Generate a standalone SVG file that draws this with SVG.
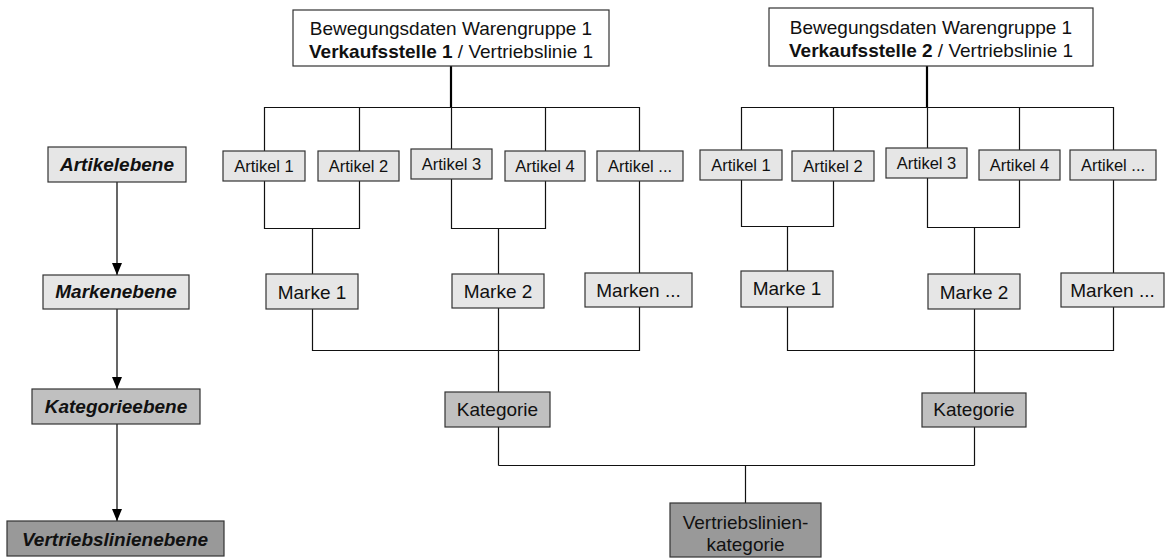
<svg xmlns="http://www.w3.org/2000/svg" width="1165" height="558" viewBox="0 0 1165 558">
<defs>
<marker id="arr" viewBox="0 0 12 10" refX="12" refY="5" markerWidth="12" markerHeight="10" markerUnits="userSpaceOnUse" orient="auto">
<path d="M0,0 L12,5 L0,10 Z" fill="#000"/>
</marker>
<style>
text{font-family:"Liberation Sans",Arial,Helvetica,sans-serif;fill:#111;text-anchor:middle}
.box{stroke:#333;stroke-width:1.2}
.white{fill:#fff}
.l1{fill:#e6e6e6}
.l2{fill:#c0c0c0}
.l3{fill:#999999}
.art{font-size:16.5px}
.big{font-size:19px}
.lvl{font-size:19px;font-weight:bold;font-style:italic}
.con{fill:none;stroke:#111;stroke-width:1.2}
.thick{fill:none;stroke:#000;stroke-width:2.2}
.arrow{fill:none;stroke:#000;stroke-width:1.2}
</style>
</defs>
<rect width="1165" height="558" fill="#fff"/>

<g id="connectors">
<!-- tree 1 -->
<path class="thick" d="M451,66 V107"/>
<path class="con" d="M264.5,151 V107.5 H639.5 V151 M359.5,107.5 V151 M451.5,107.5 V149 M545.5,107.5 V151"/>
<path class="con" d="M264.5,181 V228.5 H359.5 V181 M312.5,228.5 V274"/>
<path class="con" d="M451.5,179 V228.5 H545.5 V181 M498.5,228.5 V274"/>
<path class="con" d="M639.5,181 V273"/>
<path class="con" d="M312.5,309 V350.5 H639.5 V307 M498.5,308 V392"/>
<path class="con" d="M498.5,427 V465.5"/>
<!-- tree 2 -->
<path class="thick" d="M927,66 V107"/>
<path class="con" d="M741.5,150 V107.5 H1113.5 V150 M833.5,107.5 V151 M927.5,107.5 V148 M1019.5,107.5 V150"/>
<path class="con" d="M741.5,180 V226.5 H833.5 V181 M787.5,226.5 V271"/>
<path class="con" d="M927.5,178 V227.5 H1019.5 V180 M974.5,227.5 V274"/>
<path class="con" d="M1113.5,180 V273"/>
<path class="con" d="M787.5,307 V350.5 H1113.5 V307 M974.5,309 V393"/>
<path class="con" d="M974.5,427 V465.5"/>
<!-- bottom -->
<path class="con" d="M498.5,465.5 H974.5 M745.5,465.5 V503"/>
<!-- level arrows -->
<path class="arrow" d="M117,182 V275" marker-end="url(#arr)"/>
<path class="arrow" d="M117,309 V389" marker-end="url(#arr)"/>
<path class="arrow" d="M117,424 V521" marker-end="url(#arr)"/>
</g>

<!-- level labels -->
<g id="lvl-artikel"><rect class="box l1" x="48" y="147" width="138" height="35"/><text class="lvl" x="117" y="171">Artikelebene</text></g>
<g id="lvl-marke"><rect class="box l1" x="43" y="275" width="146" height="34"/><text class="lvl" x="116" y="298">Markenebene</text></g>
<g id="lvl-kategorie"><rect class="box l2" x="32" y="389" width="168" height="35"/><text class="lvl" x="116" y="413">Kategorieebene</text></g>
<g id="lvl-vertrieb"><rect class="box l3" x="7" y="521" width="217" height="35"/><text class="lvl" x="115" y="546">Vertriebslinienebene</text></g>

<!-- top boxes -->
<g id="top1"><rect class="box white" x="293" y="10" width="316" height="56"/>
<text class="big" x="451" y="35">Bewegungsdaten Warengruppe 1</text>
<text class="big" x="451" y="58"><tspan font-weight="bold">Verkaufsstelle 1</tspan> / Vertriebslinie 1</text></g>
<g id="top2"><rect class="box white" x="769" y="8" width="324" height="58"/>
<text class="big" x="931" y="34">Bewegungsdaten Warengruppe 1</text>
<text class="big" x="931" y="57"><tspan font-weight="bold">Verkaufsstelle 2</tspan> / Vertriebslinie 1</text></g>

<!-- articles tree 1 -->
<g id="a1-1"><rect class="box l1" x="223" y="151" width="82" height="30"/><text class="art" x="264" y="172">Artikel 1</text></g>
<g id="a1-2"><rect class="box l1" x="318" y="151" width="81" height="30"/><text class="art" x="358.5" y="172">Artikel 2</text></g>
<g id="a1-3"><rect class="box l1" x="411" y="149" width="81" height="30"/><text class="art" x="451.5" y="170">Artikel 3</text></g>
<g id="a1-4"><rect class="box l1" x="505" y="151" width="80" height="30"/><text class="art" x="545" y="172">Artikel 4</text></g>
<g id="a1-5"><rect class="box l1" x="597" y="151" width="86" height="30"/><text class="art" x="640" y="172">Artikel ...</text></g>

<!-- articles tree 2 -->
<g id="a2-1"><rect class="box l1" x="700" y="150" width="82" height="30"/><text class="art" x="741" y="171">Artikel 1</text></g>
<g id="a2-2"><rect class="box l1" x="792" y="151" width="82" height="30"/><text class="art" x="833" y="172">Artikel 2</text></g>
<g id="a2-3"><rect class="box l1" x="886" y="148" width="81" height="30"/><text class="art" x="926.5" y="169">Artikel 3</text></g>
<g id="a2-4"><rect class="box l1" x="979" y="150" width="81" height="30"/><text class="art" x="1019.5" y="171">Artikel 4</text></g>
<g id="a2-5"><rect class="box l1" x="1070" y="150" width="86" height="30"/><text class="art" x="1113" y="171">Artikel ...</text></g>

<!-- brands -->
<g id="m1-1"><rect class="box l1" x="266" y="274" width="92" height="35"/><text class="big" x="312" y="299">Marke 1</text></g>
<g id="m1-2"><rect class="box l1" x="452" y="274" width="92" height="34"/><text class="big" x="498" y="298">Marke 2</text></g>
<g id="m1-3"><rect class="box l1" x="585" y="273" width="107" height="34"/><text class="big" x="638.5" y="297">Marken ...</text></g>
<g id="m2-1"><rect class="box l1" x="741" y="271" width="92" height="36"/><text class="big" x="787" y="295">Marke 1</text></g>
<g id="m2-2"><rect class="box l1" x="928" y="274" width="92" height="35"/><text class="big" x="974" y="299">Marke 2</text></g>
<g id="m2-3"><rect class="box l1" x="1061" y="273" width="103" height="34"/><text class="big" x="1112.5" y="297">Marken ...</text></g>

<!-- categories -->
<g id="k1"><rect class="box l2" x="445" y="392" width="105" height="35"/><text class="big" x="497.5" y="416">Kategorie</text></g>
<g id="k2"><rect class="box l2" x="922" y="393" width="104" height="34"/><text class="big" x="974" y="416">Kategorie</text></g>

<!-- sales line category -->
<g id="vlk"><rect class="box l3" x="670" y="503" width="151" height="54"/>
<text class="big" x="745.5" y="529">Vertriebslinien-</text>
<text class="big" x="745.5" y="551">kategorie</text></g>
</svg>
